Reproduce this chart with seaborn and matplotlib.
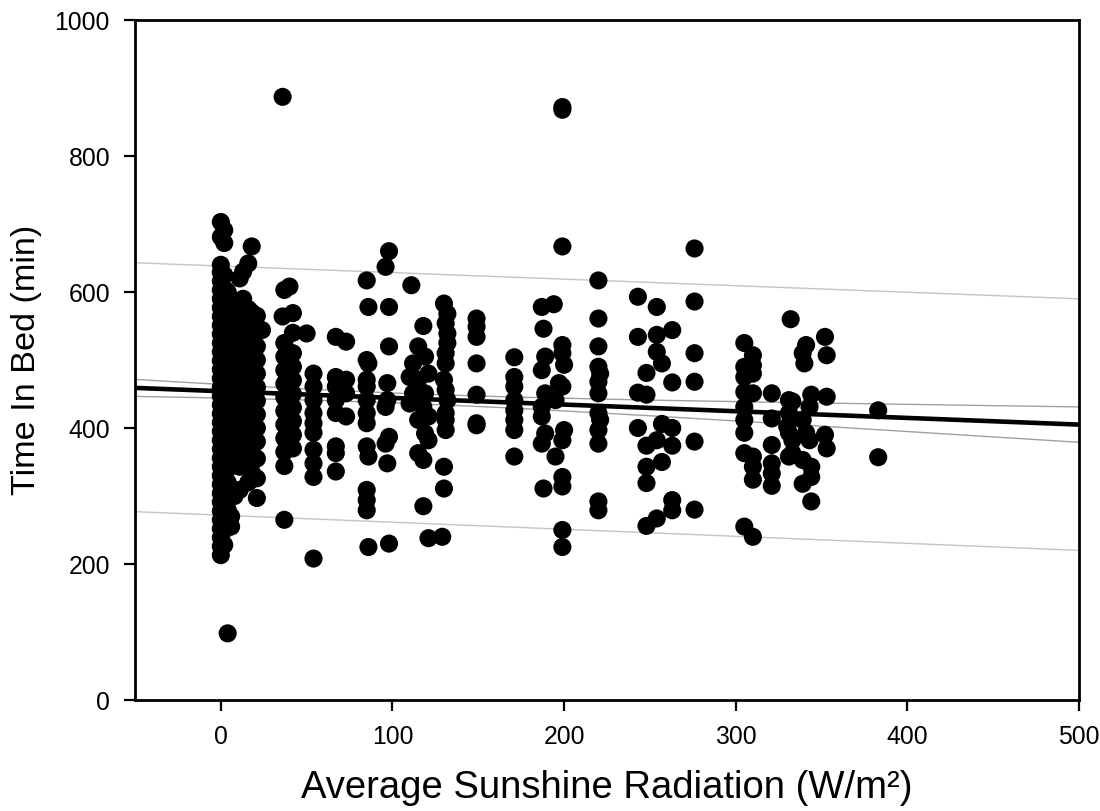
import matplotlib
matplotlib.use("Agg")
import matplotlib.pyplot as plt
import seaborn as sns
import pandas as pd

# ---- scatter data: radiation columns (W/m²) and the Time-In-Bed values at each ----
col_rad = [0, 2, 4, 6, 8, 11, 13, 16, 18, 21, 24,
           36, 37, 40, 42, 50, 54, 67, 73, 85, 86, 96, 97, 98,
           110, 111, 112, 115, 118, 119, 121, 129, 130, 131, 132, 149, 171,
           187, 188, 189, 194, 195, 197, 199, 200, 220, 221,
           243, 248, 254, 257, 263, 276, 305, 310, 321, 330, 331, 332, 333,
           339, 340, 341, 343, 344, 352, 353, 383]
col_tib = [
    [213, 226, 239, 252, 265, 278, 291, 304, 317, 330, 343, 356, 369, 382, 395, 408, 421, 434,
     447, 460, 473, 486, 499, 512, 525, 538, 551, 564, 577, 590, 603, 616, 629, 640, 681, 703],
    [228, 250, 275, 300, 320, 345, 365, 385, 405, 425, 445, 465, 485, 505, 525, 545, 565, 585,
     605, 625, 672, 691],
    [98, 255, 280, 300, 320, 340, 360, 380, 400, 420, 440, 460, 480, 500, 520, 540, 560, 580, 600],
    [255, 270, 305, 380, 400, 420, 440, 460, 480, 500, 520, 540, 560, 590],
    [300, 375, 395, 415, 435, 455, 475, 495, 515, 535, 555, 575],
    [309, 343, 370, 390, 410, 430, 450, 470, 490, 510, 530, 550, 580, 620],
    [360, 385, 405, 425, 445, 465, 485, 505, 525, 545, 570, 590, 630],
    [320, 350, 375, 395, 415, 435, 455, 475, 495, 515, 535, 555, 575, 642],
    [335, 365, 390, 410, 430, 450, 470, 490, 510, 530, 550, 570, 667],
    [297, 326, 355, 380, 400, 420, 440, 460, 480, 500, 520, 545, 565],
    [544],
    [887, 564],
    [603, 525, 505, 485, 465, 445, 425, 405, 385, 365, 344, 265],
    [608],
    [569, 540, 510, 490, 470, 450, 430, 410, 390, 370],
    [539],
    [480, 461, 441, 422, 407, 393, 368, 348, 328, 208],
    [534, 475, 461, 441, 422, 373, 363, 336],
    [527, 471, 451, 417],
    [617, 500, 471, 461, 441, 422, 407, 373, 309, 294, 279],
    [578, 495, 358, 225],
    [637, 431, 377],
    [466, 441, 348],
    [660, 578, 520, 387, 230],
    [475, 436],
    [610],
    [495, 451],
    [520, 471, 412, 363],
    [550, 431, 353, 285],
    [505, 451, 392],
    [480, 417, 382, 238],
    [240],
    [583, 471, 343, 311],
    [554, 510, 495, 456, 422, 412, 397],
    [568, 539, 525, 441],
    [561, 549, 534, 495, 449, 407, 404],
    [504, 475, 461, 441, 426, 412, 397, 358],
    [578, 485, 431, 417, 377],
    [546, 311],
    [505, 451, 392],
    [582],
    [441, 358],
    [466],
    [868, 872, 667, 522, 510, 461, 382, 328, 314, 250, 225],
    [493, 397],
    [617, 561, 520, 490, 468, 451, 422, 397, 377, 292, 279],
    [480, 412],
    [593, 534, 452, 400],
    [481, 449, 374, 343, 319, 256],
    [578, 537, 512, 382, 267],
    [495, 406, 350],
    [544, 467, 400, 374, 294, 279],
    [664, 586, 510, 468, 380, 280],
    [525, 490, 475, 453, 431, 412, 393, 363, 255],
    [507, 492, 480, 451, 358, 343, 324, 240],
    [451, 414, 375, 348, 333, 315],
    [402],
    [441, 422, 393, 358],
    [560],
    [439, 382, 363],
    [510, 412, 353, 318],
    [495],
    [522, 393],
    [431, 382],
    [449, 343, 328, 292],
    [534, 390],
    [507, 446, 370],
    [426, 357],
]

# ---- regression line, 95% confidence and prediction bands ----
fit_x = [-50, 500]
fit_y = [459, 405]
ci_x = [-50, 0, 50, 110, 170, 250, 350, 500]
ci_upper = [471.5, 464.1, 457.3, 450.4, 445.5, 441.0, 436.7, 431.0]
ci_lower = [446.5, 444.1, 441.1, 436.2, 429.3, 418.0, 402.7, 379.0]
pi_x = [-50, 500]
pi_upper = [643, 590]
pi_lower = [277, 220]

x_ticks = [0, 100, 200, 300, 400, 500]
y_ticks = [0, 200, 400, 600, 800, 1000]

rows = [(r, t) for r, ts in zip(col_rad, col_tib) for t in ts]
df = pd.DataFrame(rows, columns=["rad", "tib"])

sns.set_theme(style="ticks")
plt.rcParams["font.family"] = ["Liberation Sans", "DejaVu Sans"]

fig = plt.figure(figsize=(11, 8.11), dpi=100)
ax = fig.add_axes([135 / 1100, 111 / 811, (1079 - 135) / 1100, (700 - 20) / 811])

gray_pi = "#c4c4c4"
gray_ci = "#a0a0a0"
ax.plot(pi_x, pi_upper, color=gray_pi, lw=1.0, zorder=1)
ax.plot(pi_x, pi_lower, color=gray_pi, lw=1.0, zorder=1)
ax.plot(ci_x, ci_upper, color=gray_ci, lw=1.0, zorder=1)
ax.plot(ci_x, ci_lower, color=gray_ci, lw=1.0, zorder=1)
ax.plot(fit_x, fit_y, color="black", lw=3.3, zorder=1.5, solid_capstyle="butt")

sns.scatterplot(data=df, x="rad", y="tib", ax=ax, color="black", s=170,
                linewidth=0, edgecolor="none", zorder=3, legend=False)

ax.set_xlim(-50, 500)
ax.set_ylim(0, 1000)
ax.set_xticks(x_ticks)
ax.set_yticks(y_ticks)
ax.set_xticklabels([str(v) for v in x_ticks])
ax.set_yticklabels([str(v) for v in y_ticks])
for sp in ax.spines.values():
    sp.set_visible(True)
    sp.set_linewidth(2.0)
    sp.set_color("black")
ax.tick_params(axis="both", direction="out", length=8, width=1.6, colors="black",
               labelsize=17.8, labelcolor="black")
ax.tick_params(axis="x", pad=10)
ax.tick_params(axis="y", pad=10)
ax.set_xlabel("Average Sunshine Radiation (W/m²)", fontsize=27.5, labelpad=15, color="black")
ax.set_ylabel("Time In Bed (min)", fontsize=24.7, labelpad=9, color="black")
ax.grid(False)

fig.savefig("out.png", dpi=100, facecolor="white")
